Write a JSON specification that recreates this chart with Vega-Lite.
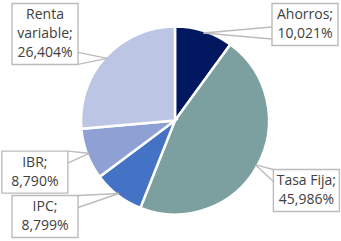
{
  "$schema": "https://vega.github.io/schema/vega-lite/v6.json",
  "width": 332,
  "height": 241,
  "padding": {"left": 9, "top": 0, "right": 0, "bottom": 0},
  "autosize": {"type": "none"},
  "background": "white",
  "config": {"view": {"stroke": null}},
  "data": {
    "values": [
      {"category": "Ahorros", "share": 10.021},
      {"category": "Tasa Fija", "share": 45.986},
      {"category": "IPC", "share": 8.799},
      {"category": "IBR", "share": 8.790},
      {"category": "Renta variable", "share": 26.404}
    ]
  },
  "transform": [
    {"window": [{"op": "row_number", "as": "k"}]},
    {"stack": "share", "groupby": [], "sort": [{"field": "k", "order": "ascending"}], "as": ["s0", "s1"]},
    {"calculate": "PI * (datum.s0 + datum.s1) / 100", "as": "a"},
    {"calculate": "(length(datum.category) > 10 ? replace(datum.category, ' ', '\\n') : datum.category) + ';\\n' + replace(format(datum.share, '.3f'), '.', ',') + '%'", "as": "lbl"},
    {"calculate": "length(split(datum.lbl, '\\n'))", "as": "nl"},
    {"calculate": "4 + 19 * datum.nl", "as": "h"},
    {"calculate": "sin(datum.a) >= 0 ? max(150 * sin(datum.a), 130) : min(150 * sin(datum.a), -130)", "as": "cx"},
    {"calculate": "clamp(145 * cos(datum.a), datum.h / 2 - 117, 117 - datum.h / 2)", "as": "cy"},
    {"calculate": "datum.cy + (datum.nl - 1) * 9.5", "as": "ly"},
    {"calculate": "datum.cx - 33", "as": "bx1"},
    {"calculate": "datum.cx + 33", "as": "bx2"},
    {"calculate": "datum.cy - datum.h / 2", "as": "by1"},
    {"calculate": "datum.cy + datum.h / 2", "as": "by2"},
    {"calculate": "92 * sin(datum.a)", "as": "tx"},
    {"calculate": "92 * cos(datum.a)", "as": "ty"},
    {"calculate": "clamp(datum.tx, datum.bx1, datum.bx2)", "as": "px"},
    {"calculate": "clamp(datum.ty, datum.by1, datum.by2)", "as": "py"},
    {"calculate": "max(datum.bx1 - datum.tx, datum.tx - datum.bx2, 0) >= max(datum.by1 - datum.ty, datum.ty - datum.by2, 0)", "as": "vert"},
    {"calculate": "datum.vert ? datum.px : clamp(datum.px - 6, datum.bx1, datum.bx2 - 12)", "as": "ax1"},
    {"calculate": "datum.vert ? clamp(datum.py - 6, datum.by1, datum.by2 - 12) : datum.py", "as": "ay1"},
    {"calculate": "datum.vert ? datum.ax1 : datum.ax1 + 12", "as": "ax2"},
    {"calculate": "datum.vert ? datum.ay1 + 12 : datum.ay1", "as": "ay2"}
  ],
  "layer": [
    {
      "mark": {"type": "arc", "outerRadius": 94, "stroke": "white", "strokeWidth": 2.5},
      "encoding": {
        "theta": {"field": "s0", "type": "quantitative", "scale": {"domain": [0, 100]}},
        "theta2": {"field": "s1"},
        "color": {
          "field": "category",
          "type": "nominal",
          "scale": {
            "domain": ["Ahorros", "Tasa Fija", "IPC", "IBR", "Renta variable"],
            "range": ["#011860", "#7ba09f", "#4472c4", "#8fa1d4", "#bcc5e4"]
          },
          "legend": null
        }
      }
    },
    {
      "mark": {"type": "rule", "stroke": "#bcbcbc", "strokeWidth": 1.4},
      "encoding": {
        "x": {"field": "ax1", "type": "quantitative", "scale": {"domain": [-166, 166], "nice": false, "zero": false}, "axis": null},
        "y": {"field": "ay1", "type": "quantitative", "scale": {"domain": [-120.5, 120.5], "nice": false, "zero": false}, "axis": null},
        "x2": {"field": "tx"},
        "y2": {"field": "ty"}
      }
    },
    {
      "mark": {"type": "rule", "stroke": "#bcbcbc", "strokeWidth": 1.4},
      "encoding": {
        "x": {"field": "ax2", "type": "quantitative"},
        "y": {"field": "ay2", "type": "quantitative"},
        "x2": {"field": "tx"},
        "y2": {"field": "ty"}
      }
    },
    {
      "mark": {"type": "rect", "fill": "white", "stroke": "#bcbcbc", "strokeWidth": 1.4},
      "encoding": {
        "x": {"field": "bx1", "type": "quantitative"},
        "x2": {"field": "bx2"},
        "y": {"field": "by1", "type": "quantitative"},
        "y2": {"field": "by2"}
      }
    },
    {
      "mark": {"type": "text", "align": "center", "baseline": "middle", "lineBreak": "\n", "lineHeight": 19, "font": "Open Sans", "fontSize": 14, "color": "#404040"},
      "encoding": {
        "x": {"field": "cx", "type": "quantitative"},
        "y": {"field": "ly", "type": "quantitative"},
        "text": {"field": "lbl", "type": "nominal"}
      }
    }
  ]
}
